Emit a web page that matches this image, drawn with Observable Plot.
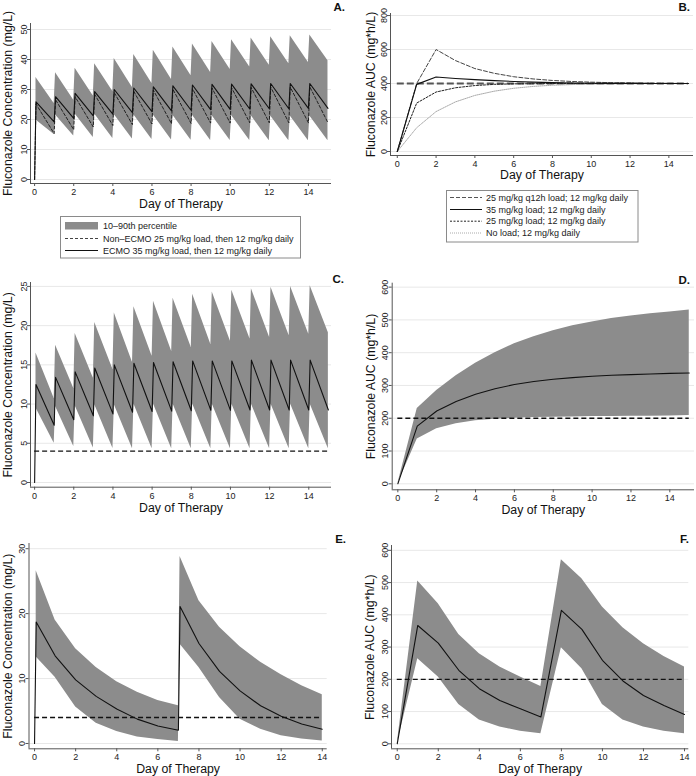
<!DOCTYPE html>
<html><head><meta charset="utf-8">
<script src="https://cdn.jsdelivr.net/npm/d3@7"></script>
<script src="https://cdn.jsdelivr.net/npm/@observablehq/plot@0.6"></script>
<style>
body{margin:0;background:#fff;}
#fig{position:relative;width:696px;height:776px;overflow:hidden;background:#fff;font-family:"Liberation Sans",Arial,sans-serif;}
#fig svg{position:absolute;}
</style>
</head><body><div id="fig"></div>
<script>
// ---------- shared ----------
const doseDays = [0,1,2,3,4,5,6,7,8,9,10,11,12,13,14];
const LAG = 0.07; // infusion end after each dose (days)
const xTitle = "Day of Therapy";
const concTitle = "Fluconazole Concentration (mg/L)";
const aucTitle = "Fluconazole AUC (mg*h/L)";
const dayTicks = [0,2,4,6,8,10,12,14];

// ---------- Panel A (concentration, ECMO vs non-ECMO) ----------
const A_ecmoPeak   = [25.9,27.6,28.7,29.3,30.0,30.5,30.9,31.2,31.5,31.7,31.8,31.9,32.0,32.0,32.0];
const A_ecmoTrough = [19.2,20.4,21.2,21.8,22.3,22.6,22.9,23.1,23.3,23.4,23.5,23.6,23.6,23.7,23.7];
const A_nonPeak    = [25.2,26.6,27.6,28.4,29.0,29.4,29.8,30.1,30.3,30.5,30.6,30.7,30.8,30.8,30.9];
const A_nonTrough  = [15.3,16.6,17.5,18.0,18.3,18.5,18.6,18.7,18.8,18.8,18.9,18.9,18.9,18.9,18.9];
const A_hiPeak     = [34.0,35.6,37.1,38.6,40.3,41.7,43.1,44.2,45.2,46.0,46.6,47.2,47.6,47.9,48.2];
const A_hiTrough   = [25.3,26.4,27.8,29.3,30.7,32.0,33.3,34.6,35.7,36.7,37.5,38.1,38.6,39.0,39.6];
const A_loPeak     = [19.8,21.5,21.8,21.8,21.7,21.6,21.5,21.4,21.4,21.3,21.3,21.3,21.2,21.2,21.2];
const A_loTrough   = [15.0,14.5,14.0,13.7,13.5,13.3,13.2,13.1,13.0,13.0,13.0,12.9,12.9,12.9,12.9];
const A_yTicks = [0,10,20,30,40,50];

// ---------- Panel B (AUC by loading strategy) ----------
const B_days  = [0,1,2,3,4,5,6,7,8,9,10,11,12,13,14,15];
const B_q12   = [0,400,600,535,488,460,440,427,418,412,408,405,403,402,401,400];
const B_35    = [0,395,438,430,423,417,412,408,405,403,402,401,401,400,400,400];
const B_25    = [0,285,350,375,388,395,398,399,400,400,400,400,400,400,400,400];
const B_none  = [0,140,235,292,330,355,372,383,390,394,397,398,399,400,400,400];
const B_target = 400;
const B_yTicks = [0,200,400,600,800];
const B_labels = ["25 mg/kg q12h load; 12 mg/kg daily","35 mg/kg load; 12 mg/kg daily","25 mg/kg load; 12 mg/kg daily","No load; 12 mg/kg daily"];

// ---------- Panel C (concentration, 12 mg/kg daily) ----------
const C_medPeak   = [12.5,13.4,14.1,14.6,15.0,15.2,15.3,15.4,15.5,15.5,15.5,15.6,15.6,15.6,15.6];
const C_medTrough = [7.3,8.0,8.5,8.75,8.95,9.05,9.1,9.15,9.2,9.2,9.25,9.25,9.25,9.25,9.25];
const C_hiPeak    = [16.5,17.5,19.0,20.4,21.6,22.4,23.1,23.5,24.0,24.3,24.5,24.7,24.9,25.0,25.1];
const C_hiTrough  = [10.7,12.0,13.3,14.4,15.3,16.1,16.7,17.2,17.6,18.0,18.3,18.5,18.7,18.9,19.1];
const C_loPeak    = [9.5,9.7,9.8,9.9,9.9,10.0,10.0,10.0,10.0,10.0,10.0,10.0,10.0,10.0,10.0];
const C_loTrough  = [5.0,4.6,4.4,4.35,4.3,4.3,4.3,4.3,4.3,4.3,4.3,4.3,4.3,4.3,4.3];
const C_target = 4;
const C_yTicks = [0,5,10,15,20,25];

// ---------- Panel D (AUC, 12 mg/kg daily) ----------
const D_days = [0,1,2,3,4,5,6,7,8,9,10,11,12,13,14,15];
const D_med  = [0,176,222,251,273,290,303,312,319,324,328,331,333,335,337,338];
const D_hi   = [0,230,285,330,368,400,427,449,467,482,494,504,512,519,524,530];
const D_lo   = [0,137,168,183,192,197,200,202,203,204,205,205,206,206,207,208];
const D_target = 200;
const D_yTicks = [0,100,200,300,400,500,600];

// ---------- Panel E (concentration, weekly dosing) ----------
const E_days = [0,0.08,1,2,3,4,5,6,7,7.08,8,9,10,11,12,13,14];
const E_med  = [0,18.7,13.5,9.8,7.25,5.3,3.75,2.7,2.05,21.1,15.4,11.1,8.1,5.8,4.2,3.0,2.2];
const E_bandDays = [0.08,1,2,3,4,5,6,7,7.08,8,9,10,11,12,13,14];
const E_hi   = [26.6,19.0,14.6,11.7,9.5,7.9,6.6,5.8,28.8,22.0,17.9,14.9,12.5,10.6,8.9,7.5];
const E_lo   = [13.3,10.2,5.6,3.1,1.85,1.0,0.6,0.3,15.3,11.7,7.1,3.75,2.2,1.2,0.7,0.4];
const E_target = 4;
const E_yTicks = [0,10,20,30];

// ---------- Panel F (AUC, weekly dosing) ----------
const F_days = [0,1,2,3,4,5,6,7,8,9,10,11,12,13,14];
const F_med  = [0,367,312,228,171,134,109,83,414,355,259,195,150,119,91];
const F_hi   = [0,505,434,339,279,238,207,178,571,512,424,360,310,271,238];
const F_lo   = [0,264,207,122,74,52,39,31,298,233,122,74,52,39,31];
const F_target = 200;
const F_yTicks = [0,100,200,300,400,500,600];

// ---------- legends ----------
const A_legend = ["10\u201390th percentile","Non\u2013ECMO 25 mg/kg load, then 12 mg/kg daily","ECMO 35 mg/kg load, then 12 mg/kg daily"];

// ---------- helpers ----------
const FONT = '"Liberation Sans", Arial, sans-serif';
const BAND = "#8c8c8c";
function sawLine(peaks, troughs) {
  const pts = [{t: 0, v: 0}];
  doseDays.forEach((d, i) => { pts.push({t: d + LAG, v: peaks[i]}); pts.push({t: d + 1, v: troughs[i]}); });
  return pts;
}
function sawBand(hiPk, hiTr, loPk, loTr) {
  const pts = [];
  doseDays.forEach((d, i) => {
    pts.push({t: d + LAG, lo: loPk[i], hi: hiPk[i]});
    pts.push({t: d + 1, lo: loTr[i], hi: hiTr[i]});
  });
  return pts;
}
const zipLine = (ts, vs) => ts.map((t, i) => ({t, v: vs[i]}));
const zipBand = (ts, lo, hi) => ts.map((t, i) => ({t, lo: lo[i], hi: hi[i]}));

const fig = document.getElementById("fig");
function panel(cfg) {
  const {left, top, width, height, frame, xDomain, yDomain, yTicks, yTitle, yTitleX, xTitleBase, marks} = cfg;
  const [fx0, fx1, fy0, fy1] = frame;
  const svg = Plot.plot({
    width, height,
    marginLeft: fx0 - left, marginRight: left + width - fx1,
    marginTop: fy0 - top, marginBottom: top + height - fy1,
    style: {fontFamily: FONT, background: "transparent", color: "#222", overflow: "visible"},
    x: {domain: xDomain},
    y: {domain: yDomain},
    marks: [
      Plot.gridY(yTicks, {stroke: "#e8e8e8", strokeOpacity: 1}),
      ...marks,
      Plot.ruleX([xDomain[0]], {stroke: "#555"}),
      Plot.ruleY([yDomain[0]], {stroke: "#555"}),
      Plot.axisX(dayTicks, {tickSize: 3, tickPadding: 2, fontSize: 9, label: null, stroke: "#555"}),
      Plot.axisY(yTicks, {tickSize: 3, tickPadding: 1, fontSize: 9, tickRotate: -90, label: null, stroke: "#555"}),
      Plot.text([xTitle], {text: d => d, frameAnchor: "bottom", textAnchor: "middle", lineAnchor: "bottom", dy: xTitleBase - fy1, fontSize: 12.3, fill: "#111"}),
      Plot.text([yTitle], {text: d => d, frameAnchor: "left", textAnchor: "middle", lineAnchor: "middle", rotate: -90, dx: yTitleX - fx0, fontSize: 12.3, fill: "#111"})
    ]
  });
  svg.style.left = left + "px";
  svg.style.top = top + "px";
  fig.appendChild(svg);
}

// Panel A
panel({
  left: 0, top: 0, width: 348, height: 215,
  frame: [30, 331, 23, 183], xDomain: [-0.21, 15.18], yDomain: [-1.33, 52],
  yTicks: A_yTicks, yTitle: concTitle, yTitleX: 7.5, xTitleBase: 207,
  marks: [
    Plot.areaY(sawBand(A_hiPeak, A_hiTrough, A_loPeak, A_loTrough), {x: "t", y1: "lo", y2: "hi", fill: BAND}),
    Plot.lineY(sawLine(A_nonPeak, A_nonTrough), {x: "t", y: "v", stroke: "#222", strokeWidth: 1, strokeDasharray: "3,2"}),
    Plot.lineY(sawLine(A_ecmoPeak, A_ecmoTrough), {x: "t", y: "v", stroke: "#111", strokeWidth: 1.1})
  ]
});

// Panel B
panel({
  left: 348, top: 0, width: 348, height: 190,
  frame: [390, 693, 13, 155], xDomain: [-0.35, 15.27], yDomain: [-23.5, 812],
  yTicks: B_yTicks, yTitle: aucTitle, yTitleX: 371, xTitleBase: 178.5,
  marks: [
    Plot.ruleY([B_target], {x1: B_days[0], x2: B_days[B_days.length - 1], stroke: "#555", strokeWidth: 2.2, strokeDasharray: "7,3"}),
    Plot.lineY(zipLine(B_days, B_none), {x: "t", y: "v", stroke: "#aaa", strokeWidth: 1, strokeDasharray: "1,1"}),
    Plot.lineY(zipLine(B_days, B_25), {x: "t", y: "v", stroke: "#222", strokeWidth: 1, strokeDasharray: "2,1.5"}),
    Plot.lineY(zipLine(B_days, B_q12), {x: "t", y: "v", stroke: "#444", strokeWidth: 1, strokeDasharray: "4,2"}),
    Plot.lineY(zipLine(B_days, B_35), {x: "t", y: "v", stroke: "#111", strokeWidth: 1.1})
  ]
});

// Panel C
panel({
  left: 0, top: 262, width: 348, height: 258,
  frame: [30, 331, 282, 486.7], xDomain: [-0.21, 15.16], yDomain: [-0.6, 25.5],
  yTicks: C_yTicks, yTitle: concTitle, yTitleX: 7.5, xTitleBase: 511,
  marks: [
    Plot.areaY(sawBand(C_hiPeak, C_hiTrough, C_loPeak, C_loTrough), {x: "t", y1: "lo", y2: "hi", fill: BAND}),
    Plot.lineY(sawLine(C_medPeak, C_medTrough), {x: "t", y: "v", stroke: "#111", strokeWidth: 1.1}),
    Plot.ruleY([C_target], {x1: doseDays[0], x2: doseDays[doseDays.length - 1] + 1, stroke: "#111", strokeWidth: 1.3, strokeDasharray: "5,3"})
  ]
});

// Panel D
panel({
  left: 348, top: 262, width: 348, height: 258,
  frame: [391.7, 694, 282.7, 489.3], xDomain: [-0.29, 15.27], yDomain: [-18.3, 612],
  yTicks: D_yTicks, yTitle: aucTitle, yTitleX: 371, xTitleBase: 513,
  marks: [
    Plot.areaY(zipBand(D_days, D_lo, D_hi), {x: "t", y1: "lo", y2: "hi", fill: BAND}),
    Plot.lineY(zipLine(D_days, D_med), {x: "t", y: "v", stroke: "#111", strokeWidth: 1.1}),
    Plot.ruleY([D_target], {x1: D_days[0], x2: D_days[D_days.length - 1], stroke: "#111", strokeWidth: 1.3, strokeDasharray: "5,3"})
  ]
});

// Panel E
panel({
  left: 0, top: 520, width: 348, height: 256,
  frame: [28.5, 326.7, 543, 748.3], xDomain: [-0.27, 14.24], yDomain: [-0.82, 30.8],
  yTicks: E_yTicks, yTitle: concTitle, yTitleX: 7.2, xTitleBase: 772,
  marks: [
    Plot.areaY(zipBand(E_bandDays, E_lo, E_hi), {x: "t", y1: "lo", y2: "hi", fill: BAND}),
    Plot.lineY(zipLine(E_days, E_med), {x: "t", y: "v", stroke: "#111", strokeWidth: 1.1}),
    Plot.ruleY([E_target], {x1: E_days[0], x2: E_days[E_days.length - 1], stroke: "#111", strokeWidth: 1.3, strokeDasharray: "5,3"})
  ]
});

// Panel F
panel({
  left: 348, top: 520, width: 348, height: 256,
  frame: [391, 688.3, 545, 748.3], xDomain: [-0.28, 14.21], yDomain: [-15.5, 615],
  yTicks: F_yTicks, yTitle: aucTitle, yTitleX: 370, xTitleBase: 772,
  marks: [
    Plot.areaY(zipBand(F_days, F_lo, F_hi), {x: "t", y1: "lo", y2: "hi", fill: BAND}),
    Plot.lineY(zipLine(F_days, F_med), {x: "t", y: "v", stroke: "#111", strokeWidth: 1.1}),
    Plot.ruleY([F_target], {x1: F_days[0], x2: F_days[F_days.length - 1], stroke: "#111", strokeWidth: 1.3, strokeDasharray: "5,3"})
  ]
});

// ---------- overlay: panel letters and legends ----------
const ov = d3.select(fig).append("svg")
  .attr("width", 696).attr("height", 776)
  .style("left", "0px").style("top", "0px")
  .style("font-family", FONT).style("pointer-events", "none");

const letters = [["A.", 345, 11], ["B.", 690, 11], ["C.", 344, 283], ["D.", 690, 284], ["E.", 346, 543], ["F.", 689, 543]];
ov.selectAll("text.letter").data(letters).join("text").attr("class", "letter")
  .attr("x", d => d[1]).attr("y", d => d[2]).attr("text-anchor", "end")
  .attr("font-size", 11.5).attr("font-weight", "bold").attr("fill", "#111").text(d => d[0]);

// legend A
const la = ov.append("g");
la.append("rect").attr("x", 60.5).attr("y", 216.5).attr("width", 240).attr("height", 41.5)
  .attr("fill", "#fff").attr("stroke", "#8a8a8a");
la.append("rect").attr("x", 65).attr("y", 222).attr("width", 33).attr("height", 7.5).attr("fill", BAND);
la.append("line").attr("x1", 65).attr("x2", 98).attr("y1", 238.5).attr("y2", 238.5)
  .attr("stroke", "#444").attr("stroke-dasharray", "3,2");
la.append("line").attr("x1", 65).attr("x2", 98).attr("y1", 250.5).attr("y2", 250.5).attr("stroke", "#111");
[229, 241.5, 253.5].forEach((yb, i) => {
  la.append("text").attr("x", 103).attr("y", yb).attr("font-size", 9).attr("fill", "#222").text(A_legend[i]);
});

// legend B
const lb = ov.append("g");
lb.append("rect").attr("x", 446.5).attr("y", 190.5).attr("width", 191.5).attr("height", 51.5)
  .attr("fill", "#fff").attr("stroke", "#8a8a8a");
const bStyles = [["#555", "4,2"], ["#111", null], ["#222", "2,1.5"], ["#aaa", "1,1"]];
[197.5, 209.5, 221.2, 233].forEach((yc, i) => {
  const ln = lb.append("line").attr("x1", 450).attr("x2", 482).attr("y1", yc).attr("y2", yc)
    .attr("stroke", bStyles[i][0]);
  if (bStyles[i][1]) ln.attr("stroke-dasharray", bStyles[i][1]);
  lb.append("text").attr("x", 486).attr("y", yc + 3.2).attr("font-size", 9).attr("fill", "#222").text(B_labels[i]);
});
</script>
</body></html>
